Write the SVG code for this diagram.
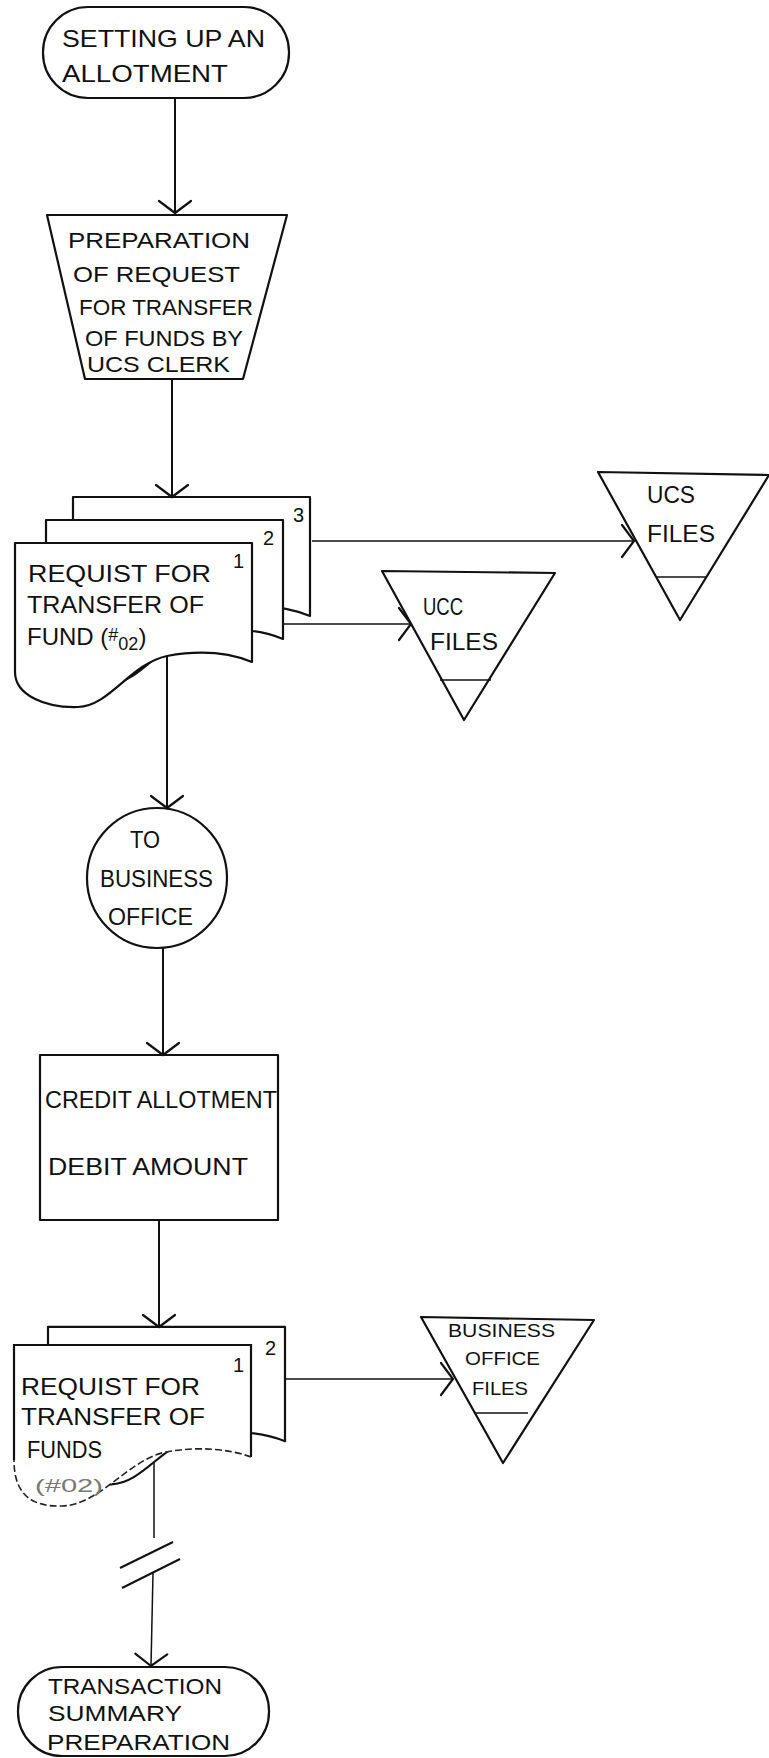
<svg xmlns="http://www.w3.org/2000/svg" xmlns:xlink="http://www.w3.org/1999/xlink" width="769" height="1758" viewBox="0 0 769 1758">
  <style>
    .shape { fill: #fff; stroke: #111; stroke-width: 2.2; stroke-linejoin: round; }
    .thin { fill: none; stroke: #111; stroke-width: 1.6; }
    .conn { fill: none; stroke: #111; stroke-width: 2; }
    .conn-lt { fill: none; stroke: #111; stroke-width: 1.5; }
    .faded { fill: none; stroke: #222; stroke-width: 1.6; stroke-dasharray: 7 3; }
    text { font-family: "Liberation Sans", Arial, sans-serif; font-size: 24px; fill: #111; }
    .mid { font-size: 22px; }
    .num { font-size: 20px; }
    .small { font-size: 19px; }
    .ghost { font-size: 18px; fill: #777; }
  </style>
  <defs>
    <!-- open chevron arrowhead -->
    <marker id="chev" viewBox="-15 -19 18 38" markerWidth="18" markerHeight="38" refX="0" refY="0" orient="auto" markerUnits="userSpaceOnUse">
      <path d="M-12,-16 L0,0 L-12,16" fill="none" stroke="#111" stroke-width="2.2" stroke-linecap="round"/>
    </marker>
    <!-- document sheet with wavy bottom edge, origin at top-left -->
    <path id="docShape" d="M0,0 H237 V119 C215,110 185,107 152,113 C115,121 95,163 63,164 C30,165 0,152 0,129 Z"/>
  </defs>

  <!-- terminator: start -->
  <g id="start">
    <rect class="shape" x="43" y="7" width="246" height="91" rx="45" ry="45"/>
    <text x="62" y="47" textLength="203" lengthAdjust="spacingAndGlyphs">SETTING UP AN</text>
    <text x="62" y="82" textLength="166" lengthAdjust="spacingAndGlyphs">ALLOTMENT</text>
  </g>

  <!-- manual operation -->
  <g id="prepare">
    <polygon class="shape" points="47,215 287,215 243,379 85,379"/>
    <text class="mid" x="68" y="248" textLength="182" lengthAdjust="spacingAndGlyphs">PREPARATION</text>
    <text class="mid" x="73" y="282" textLength="167" lengthAdjust="spacingAndGlyphs">OF REQUEST</text>
    <text class="mid" x="79" y="315" textLength="174" lengthAdjust="spacingAndGlyphs">FOR TRANSFER</text>
    <text class="mid" x="85" y="346" textLength="158" lengthAdjust="spacingAndGlyphs">OF FUNDS BY</text>
    <text class="mid" x="87" y="372" textLength="143" lengthAdjust="spacingAndGlyphs">UCS CLERK</text>
  </g>

  <!-- request form, three copies -->
  <g id="request-3copies">
    <use xlink:href="#docShape" href="#docShape" class="shape" x="73" y="497"/>
    <use xlink:href="#docShape" href="#docShape" class="shape" x="46" y="520"/>
    <use xlink:href="#docShape" href="#docShape" class="shape" x="15" y="543"/>
    <text class="num" x="293" y="522">3</text>
    <text class="num" x="263" y="545">2</text>
    <text class="num" x="233" y="568" font-size="16">1</text>
    <text x="28" y="582" textLength="183" lengthAdjust="spacingAndGlyphs">REQUIST FOR</text>
    <text x="27" y="613" textLength="177" lengthAdjust="spacingAndGlyphs">TRANSFER OF</text>
    <text x="27" y="645">FUND (<tspan dy="-4" font-size="18">#</tspan><tspan dy="9" font-size="18">02</tspan><tspan dy="-5">)</tspan></text>
  </g>

  <!-- UCS files -->
  <g id="ucs-files">
    <polygon class="shape" points="598,472 769,475 680,620"/>
    <line class="thin" x1="656" y1="577" x2="707" y2="577"/>
    <text x="647" y="503" textLength="48" lengthAdjust="spacingAndGlyphs">UCS</text>
    <text x="647" y="542" textLength="68" lengthAdjust="spacingAndGlyphs">FILES</text>
  </g>

  <!-- UCC files -->
  <g id="ucc-files">
    <polygon class="shape" points="382,571 555,573 464,720"/>
    <line class="thin" x1="440" y1="680" x2="491" y2="680"/>
    <text x="423" y="615" textLength="40" lengthAdjust="spacingAndGlyphs">UCC</text>
    <text x="430" y="650" textLength="68" lengthAdjust="spacingAndGlyphs">FILES</text>
  </g>

  <!-- off-page connector -->
  <g id="to-business-office">
    <circle class="shape" cx="157" cy="878" r="70"/>
    <text x="130" y="848" textLength="30" lengthAdjust="spacingAndGlyphs">TO</text>
    <text x="100" y="887" textLength="113" lengthAdjust="spacingAndGlyphs">BUSINESS</text>
    <text x="108" y="925" textLength="85" lengthAdjust="spacingAndGlyphs">OFFICE</text>
  </g>

  <!-- process -->
  <g id="credit-debit">
    <rect class="shape" x="40" y="1055" width="238" height="165"/>
    <text x="45" y="1108" textLength="232" lengthAdjust="spacingAndGlyphs">CREDIT ALLOTMENT</text>
    <text x="48" y="1175" textLength="200" lengthAdjust="spacingAndGlyphs">DEBIT AMOUNT</text>
  </g>

  <!-- request form, two copies -->
  <g id="request-2copies">
    <use xlink:href="#docShape" href="#docShape" class="shape" x="48" y="1327" transform="translate(0,53) scale(1,0.96)"/>
    <path fill="#fff" stroke="none" d="M14,1345 H251 V1457 C229,1449 199,1446 166,1452 C129,1459 100,1505 62,1506 C32,1507 14,1495 14,1473 Z"/>
    <path fill="none" stroke="#111" stroke-width="2.2" d="M14,1460 V1345 H251 V1457"/>
    <path class="faded" d="M251,1457 C229,1449 199,1446 166,1452 C129,1459 100,1505 62,1506 C32,1507 14,1495 14,1460"/>
    <text class="num" x="265" y="1355">2</text>
    <text class="num" x="233" y="1372" font-size="16">1</text>
    <text x="21" y="1395" textLength="179" lengthAdjust="spacingAndGlyphs">REQUIST FOR</text>
    <text x="21" y="1425" textLength="184" lengthAdjust="spacingAndGlyphs">TRANSFER OF</text>
    <text x="27" y="1458" textLength="75" lengthAdjust="spacingAndGlyphs">FUNDS</text>
    <text class="ghost" x="35" y="1492" textLength="68" lengthAdjust="spacingAndGlyphs">(#02)</text>
  </g>

  <!-- business office files -->
  <g id="business-office-files">
    <polygon class="shape" points="421,1317 594,1320 503,1463"/>
    <line class="thin" x1="475" y1="1413" x2="528" y2="1413"/>
    <text class="small" x="448" y="1337" textLength="107" lengthAdjust="spacingAndGlyphs">BUSINESS</text>
    <text class="small" x="465" y="1365" textLength="75" lengthAdjust="spacingAndGlyphs">OFFICE</text>
    <text class="small" x="472" y="1395" textLength="56" lengthAdjust="spacingAndGlyphs">FILES</text>
  </g>

  <!-- terminator: end -->
  <g id="summary">
    <rect class="shape" x="18" y="1667" width="251" height="89" rx="44" ry="44"/>
    <text class="mid" x="48" y="1694" textLength="174" lengthAdjust="spacingAndGlyphs">TRANSACTION</text>
    <text class="mid" x="48" y="1721" textLength="134" lengthAdjust="spacingAndGlyphs">SUMMARY</text>
    <text class="mid" x="47" y="1750" textLength="183" lengthAdjust="spacingAndGlyphs">PREPARATION</text>
  </g>

  <!-- flow lines -->
  <g id="connectors">
    <line class="conn" x1="175" y1="98" x2="175" y2="213" marker-end="url(#chev)"/>
    <line class="conn" x1="172" y1="379" x2="172" y2="497" marker-end="url(#chev)"/>
    <line class="conn-lt" x1="312" y1="541" x2="634" y2="541" marker-end="url(#chev)"/>
    <line class="conn-lt" x1="284" y1="624" x2="411" y2="624" marker-end="url(#chev)"/>
    <line class="conn" x1="167" y1="656" x2="167" y2="808" marker-end="url(#chev)"/>
    <line class="conn" x1="163" y1="948" x2="163" y2="1055" marker-end="url(#chev)"/>
    <line class="conn" x1="159" y1="1220" x2="159" y2="1327" marker-end="url(#chev)"/>
    <line class="conn-lt" x1="285" y1="1379" x2="453" y2="1379" marker-end="url(#chev)"/>
    <line class="conn-lt" x1="154" y1="1463" x2="154" y2="1538"/>
    <line class="conn" x1="120" y1="1568" x2="173" y2="1542"/>
    <line class="conn" x1="122" y1="1588" x2="180" y2="1559"/>
    <line class="conn-lt" x1="153" y1="1573" x2="151" y2="1666" marker-end="url(#chev)"/>
  </g>
</svg>
